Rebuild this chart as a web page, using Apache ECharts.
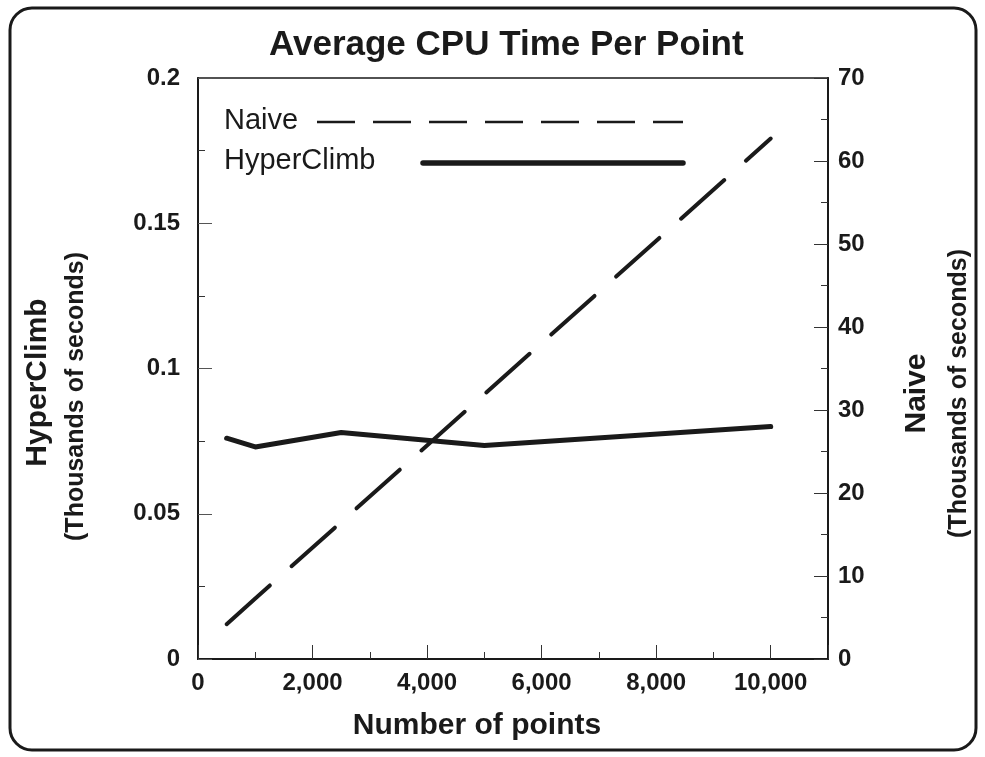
<!DOCTYPE html>
<html>
<head>
    <meta charset="utf-8">
    <title>Average CPU Time Per Point</title>
    <script src="https://cdn.jsdelivr.net/npm/echarts@6/dist/echarts.min.js"></script>
    <style>
        html, body { margin: 0; padding: 0; background: #fff; }
        #main { width: 985px; height: 757px; }
    </style>
</head>
<body>
<div id="main"></div>
<script>
    // number of points (x)
    var points = [500, 1000, 2500, 5000, 10000];
    // HyperClimb, left axis (thousands of seconds)
    var hyperClimb = [0.076, 0.073, 0.078, 0.0735, 0.080];
    // Naive, right axis (thousands of seconds)
    var naive = [4.2, 7.3, 16.5, 31.9, 62.7];

    var leftTicks = {min: 0, max: 0.2, interval: 0.05};
    var rightTicks = {min: 0, max: 70, interval: 10};
    var xTicks = {min: 0, max: 11000, interval: 2000};

    var font = '"Liberation Sans", Arial, Helvetica, sans-serif';
    var ink = '#1a1a1a';

    function pairs(xs, ys) {
        return xs.map(function (x, i) { return [x, ys[i]]; });
    }

    var myChart = echarts.init(document.getElementById('main'));

    var option = {
        backgroundColor: '#fff',
        animation: false,
        textStyle: {fontFamily: font},
        title: {
            text: 'Average CPU Time Per Point',
            left: 264,
            top: 23,
            textStyle: {fontSize: 35, fontWeight: 'bold', color: ink, fontFamily: font}
        },
        grid: {
            left: 198, right: 157, top: 78, bottom: 98,
            outerBoundsMode: 'none',
            show: true, borderColor: ink, borderWidth: 1.5
        },
        xAxis: {
            type: 'value',
            min: xTicks.min, max: xTicks.max, interval: xTicks.interval,
            name: 'Number of points',
            nameLocation: 'middle',
            nameGap: 52,
            nameTextStyle: {fontSize: 30, fontWeight: 'bold', color: ink, padding: [0, 72, 0, 0]},
            axisLine: {lineStyle: {color: ink, width: 2}},
            axisTick: {inside: true, length: 14, lineStyle: {color: '#333', width: 1}},
            minorTick: {show: true, splitNumber: 2, length: 7, lineStyle: {color: '#333', width: 1}},
            splitLine: {show: false},
            axisLabel: {
                fontSize: 24, fontWeight: 'bold', color: ink, margin: 12,
                showMaxLabel: false,
                formatter: function (v) { return v.toLocaleString('en-US'); }
            }
        },
        yAxis: [
            {
                type: 'value',
                position: 'left',
                min: leftTicks.min, max: leftTicks.max, interval: leftTicks.interval,
                name: '{a|HyperClimb}\n{b|(Thousands of seconds)}',
                nameLocation: 'middle',
                nameRotate: 90,
                nameGap: 103,
                nameTextStyle: {
                    color: ink,
                    padding: [0, 28, 0, 0],
                    rich: {
                        a: {fontSize: 30, fontWeight: 'bold', color: ink, fontFamily: font, lineHeight: 38},
                        b: {fontSize: 25, fontWeight: 'bold', color: ink, fontFamily: font, lineHeight: 38,
                            padding: [0, 28, 0, 0]}
                    }
                },
                axisLine: {show: true, lineStyle: {color: ink, width: 2}},
                axisTick: {show: true, inside: true, length: 14, lineStyle: {color: '#555', width: 1}},
                minorTick: {show: true, splitNumber: 2, length: 7, lineStyle: {color: '#333', width: 1}},
                splitLine: {show: false},
                axisLabel: {
                    fontSize: 24, fontWeight: 'bold', color: ink, margin: 18,
                    formatter: function (v) { return String(+v.toFixed(3)); }
                }
            },
            {
                type: 'value',
                position: 'right',
                min: rightTicks.min, max: rightTicks.max, interval: rightTicks.interval,
                name: '{a|Naive}\n{b|(Thousands of seconds)}',
                nameLocation: 'middle',
                nameRotate: 90,
                nameGap: 68,
                nameTextStyle: {
                    color: ink,
                    padding: [0, 50, 0, 0],
                    rich: {
                        a: {fontSize: 30, fontWeight: 'bold', color: ink, fontFamily: font, lineHeight: 42},
                        b: {fontSize: 25, fontWeight: 'bold', color: ink, fontFamily: font, lineHeight: 42}
                    }
                },
                axisLine: {show: true, lineStyle: {color: ink, width: 2}},
                axisTick: {show: true, inside: true, length: 14, lineStyle: {color: '#333', width: 1}},
                minorTick: {show: true, splitNumber: 2, length: 7, lineStyle: {color: '#333', width: 1}},
                splitLine: {show: false},
                axisLabel: {fontSize: 24, fontWeight: 'bold', color: ink, margin: 10}
            }
        ],
        series: [
            {
                name: 'HyperClimb',
                type: 'line',
                yAxisIndex: 0,
                data: pairs(points, hyperClimb),
                showSymbol: false,
                lineStyle: {color: ink, width: 5, cap: 'round', join: 'round'}
            },
            {
                name: 'Naive',
                type: 'line',
                yAxisIndex: 1,
                data: pairs(points, naive),
                showSymbol: false,
                lineStyle: {color: ink, width: 4, type: [58, 29], cap: 'round'}
            }
        ],
        graphic: [
            {
                type: 'rect',
                shape: {x: 10, y: 8, width: 966, height: 742, r: 22},
                style: {fill: 'none', stroke: ink, lineWidth: 3}
            },
            // legend
            {
                type: 'text', left: 224, top: 106,
                style: {text: 'Naive', fontSize: 29, fontFamily: font, fill: ink}
            },
            {
                type: 'line',
                shape: {x1: 317, y1: 122, x2: 683, y2: 122},
                style: {stroke: ink, lineWidth: 2.5, lineDash: [38, 18]}
            },
            {
                type: 'text', left: 224, top: 146,
                style: {text: 'HyperClimb', fontSize: 29, fontFamily: font, fill: ink}
            },
            {
                type: 'line',
                shape: {x1: 423, y1: 163, x2: 683, y2: 163},
                style: {stroke: ink, lineWidth: 5.5, lineCap: 'round'}
            }
        ]
    };
    myChart.setOption(option);
</script>
</body>
</html>
